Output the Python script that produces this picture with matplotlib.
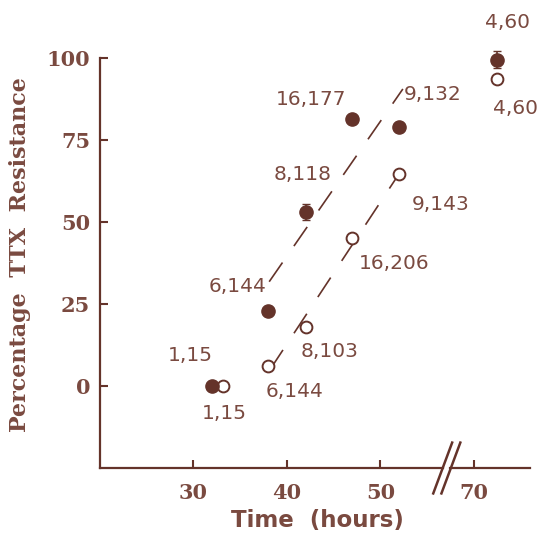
import numpy as np
import matplotlib
matplotlib.use("Agg")
import matplotlib.pyplot as plt

# data
hours = np.array([32.0, 38, 42, 47, 52, 72.5])
hours_open = np.array([33.2, 38, 42, 47, 52, 72.5])
closed_pct = np.array([0, 23, 53, 81.5, 79, 99.5])
closed_err = np.array([0, 0, 2.5, 0, 0, 2.5])
open_pct = np.array([0, 6, 18, 45, 64.5, 93.5])
closed_lbl = ["1,15", "6,144", "8,118", "16,177", "9,132", "4,60"]
open_lbl = ["1,15", "6,144", "8,103", "16,206", "9,143", "4,60"]

# label offsets (points)
closed_off = [(-16, 22), (-22, 17), (-2, 27), (-30, 14), (24, 23), (7, 27)]
open_off = [(1, -20), (19, -18), (17, -18), (30, -18), (30, -22), (13, -21)]

brown = "#64332a"
txt = "#7a4a40"

def brk(h):
    # axis is broken between 55 and 65 hours
    h = np.asarray(h, dtype=float)
    return np.where(h > 60, h - 10, h)

fig = plt.figure(figsize=(5.41, 5.34), dpi=100)
ax = fig.add_axes([100 / 541, 1 - 468 / 534, 430 / 541, 410 / 534])

ax.errorbar(brk(hours), closed_pct, yerr=closed_err, fmt="o", color=brown,
            ms=9.5, capsize=3, elinewidth=1.2, clip_on=False, zorder=3)
ax.plot(brk(hours_open), open_pct, "o", mfc="white", mec=brown, mew=1.4,
        ms=8.5, clip_on=False, zorder=3)

# regression lines through the 38-52 h points
sel = (hours >= 38) & (hours <= 52)
pc = np.polyfit(hours[sel], closed_pct[sel], 1)
po = np.polyfit(hours_open[sel], open_pct[sel], 1)
xc = np.array([38.1, 52.4])
xo = np.array([38.2, 52.0])
ax.plot(xc, np.polyval(pc, xc), color=brown, lw=1.2, dashes=(14, 12), zorder=2)
ax.plot(xo, np.polyval(po, xo), color=brown, lw=1.2, dashes=(14, 12), zorder=2)

for h, v, s, o in zip(brk(hours), closed_pct, closed_lbl, closed_off):
    ax.annotate(s, (h, v), xytext=o, textcoords="offset points", ha="center",
                va="center", fontsize=14.5, color=txt, annotation_clip=False)
for h, v, s, o in zip(brk(hours_open), open_pct, open_lbl, open_off):
    ax.annotate(s, (h, v), xytext=o, textcoords="offset points", ha="center",
                va="center", fontsize=14.5, color=txt, annotation_clip=False)

ax.set_xlim(20, 66)
ax.set_ylim(-25, 100)
ax.set_xticks([30, 40, 50, 60])
ax.set_xticklabels(["30", "40", "50", "70"])
ax.set_yticks([0, 25, 50, 75, 100])

for side in ["top", "right", "bottom"]:
    ax.spines[side].set_visible(False)
ax.spines["left"].set_color(brown)
ax.spines["left"].set_linewidth(1.6)

# bottom axis drawn by hand with the break marks
ax.plot([0, 0.797], [0, 0], color=brown, lw=1.6, transform=ax.transAxes, clip_on=False)
ax.plot([0.814, 1], [0, 0], color=brown, lw=1.6, transform=ax.transAxes, clip_on=False)
for bx in [0.797, 0.816]:
    ax.plot([bx - 0.022, bx + 0.022], [-0.062, 0.062], color=brown, lw=1.8,
            transform=ax.transAxes, clip_on=False)

ax.tick_params(direction="in", length=6, width=1.5, color=brown,
               labelcolor=txt, labelsize=15)
ax.tick_params(axis="x", pad=11)
ax.tick_params(axis="y", pad=7)
for lab in ax.get_xticklabels() + ax.get_yticklabels():
    lab.set_family("DejaVu Serif")
    lab.set_fontweight("bold")

ax.set_xlabel("Time  (hours)", fontsize=16.5, fontweight="bold", color=txt)
ax.set_ylabel("Percentage  TTX  Resistance", fontsize=16, fontweight="bold",
              color=txt, family="DejaVu Serif")
ax.xaxis.set_label_coords(0.505, -0.1)
ax.yaxis.set_label_coords(-0.16, 0.52)

fig.savefig("out.png", dpi=100)
